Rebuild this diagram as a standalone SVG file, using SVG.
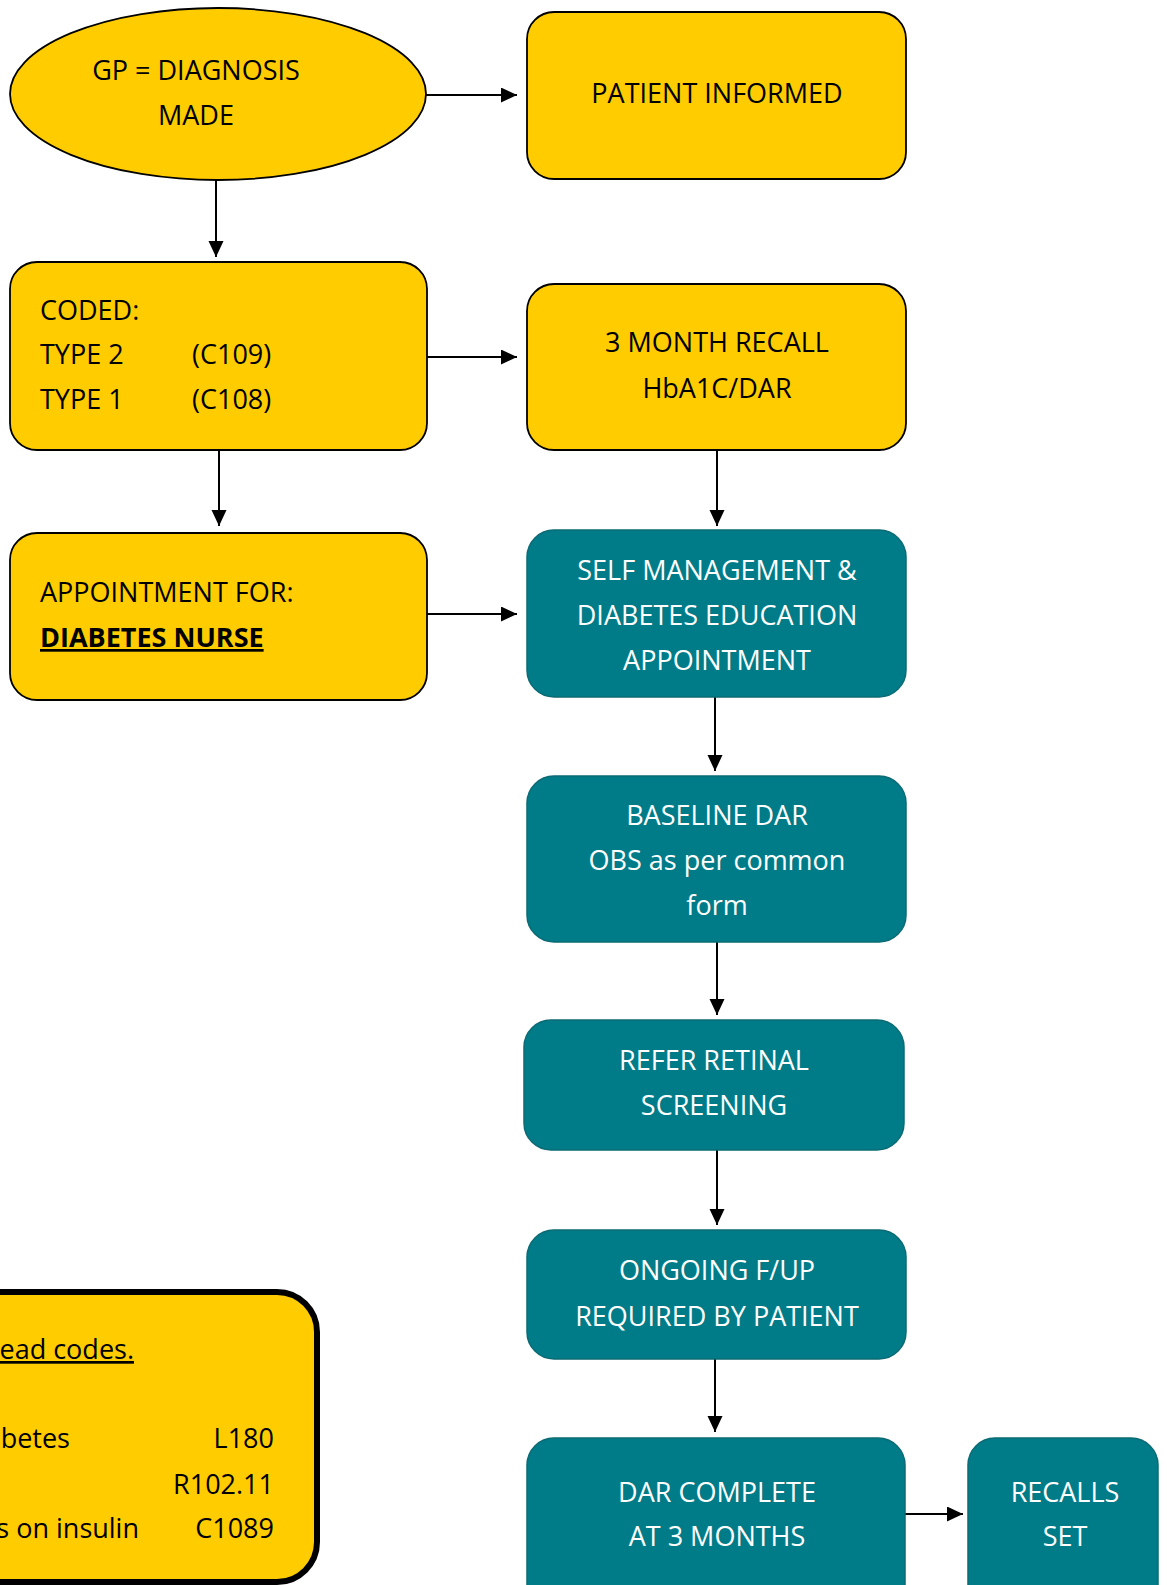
<svg xmlns="http://www.w3.org/2000/svg" width="1167" height="1585" viewBox="0 0 1167 1585">
<style>
text { font-family: "Open Sans", "Noto Sans", "Liberation Sans", sans-serif; font-size: 27px; }
.y { fill: #FFCC00; stroke: #000; stroke-width: 1.8; }
.t { fill: #007C89; stroke: #0B6A73; stroke-width: 1.5; }
.dk { fill: #000; }
.wt { fill: #fff; }
.c { text-anchor: middle; }
.e { text-anchor: end; }
.u { text-decoration: underline; }
.conn line { stroke: #000; stroke-width: 2; marker-end: url(#ah); }
</style>
<defs>
<marker id="ah" markerUnits="userSpaceOnUse" markerWidth="16" markerHeight="16" refX="16" refY="7.5" orient="auto">
<path d="M0,0 L16,7.5 L0,15 z" fill="#000"/>
</marker>
</defs>
<rect width="1167" height="1585" fill="#fff"/>
<g class="conn">
<line x1="426" y1="95" x2="517" y2="95"/>
<line x1="216" y1="180" x2="216" y2="257"/>
<line x1="427" y1="357" x2="517" y2="357"/>
<line x1="219" y1="450" x2="219" y2="526"/>
<line x1="427" y1="614" x2="517" y2="614"/>
<line x1="717" y1="450" x2="717" y2="526"/>
<line x1="715" y1="697" x2="715" y2="771"/>
<line x1="717" y1="942" x2="717" y2="1015"/>
<line x1="717" y1="1150" x2="717" y2="1225"/>
<line x1="715" y1="1359" x2="715" y2="1432"/>
<line x1="905" y1="1514" x2="963" y2="1514"/>
</g>
<g id="gp-diagnosis">
<ellipse class="y" cx="218" cy="94" rx="208" ry="86"/>
<text class="dk c" x="196" y="80">GP = DIAGNOSIS</text>
<text class="dk c" x="196" y="125">MADE</text>
</g>
<g id="patient-informed">
<rect class="y" x="527" y="12" width="379" height="167" rx="27"/>
<text class="dk c" x="717" y="103">PATIENT INFORMED</text>
</g>
<g id="coded">
<rect class="y" x="10" y="262" width="417" height="188" rx="27"/>
<text class="dk" x="40" y="320">CODED:</text>
<text class="dk" x="40" y="364">TYPE 2</text>
<text class="dk" x="192" y="364">(C109)</text>
<text class="dk" x="40" y="409">TYPE 1</text>
<text class="dk" x="192" y="409">(C108)</text>
</g>
<g id="three-month-recall">
<rect class="y" x="527" y="284" width="379" height="166" rx="27"/>
<text class="dk c" x="717" y="352">3 MONTH RECALL</text>
<text class="dk c" x="717" y="398">HbA1C/DAR</text>
</g>
<g id="appointment">
<rect class="y" x="10" y="533" width="417" height="167" rx="27"/>
<text class="dk" x="40" y="602">APPOINTMENT FOR:</text>
<text class="dk u" x="40" y="647" font-weight="bold">DIABETES NURSE</text>
</g>
<g id="self-management">
<rect class="t" x="527" y="530" width="379" height="167" rx="27"/>
<text class="wt c" x="717" y="580">SELF MANAGEMENT &amp;</text>
<text class="wt c" x="717" y="625">DIABETES EDUCATION</text>
<text class="wt c" x="717" y="670">APPOINTMENT</text>
</g>
<g id="baseline-dar">
<rect class="t" x="527" y="776" width="379" height="166" rx="27"/>
<text class="wt c" x="717" y="825">BASELINE DAR</text>
<text class="wt c" x="717" y="870">OBS as per common</text>
<text class="wt c" x="717" y="915">form</text>
</g>
<g id="refer-retinal">
<rect class="t" x="524" y="1020" width="380" height="130" rx="27"/>
<text class="wt c" x="714" y="1070">REFER RETINAL</text>
<text class="wt c" x="714" y="1115">SCREENING</text>
</g>
<g id="ongoing">
<rect class="t" x="527" y="1230" width="379" height="129" rx="27"/>
<text class="wt c" x="717" y="1280">ONGOING F/UP</text>
<text class="wt c" x="717" y="1326">REQUIRED BY PATIENT</text>
</g>
<g id="dar-complete">
<rect class="t" x="527" y="1438" width="378" height="180" rx="27"/>
<text class="wt c" x="717" y="1502">DAR COMPLETE</text>
<text class="wt c" x="717" y="1546">AT 3 MONTHS</text>
</g>
<g id="recalls-set">
<rect class="t" x="968" y="1438" width="190" height="180" rx="27"/>
<text class="wt c" x="1065" y="1502">RECALLS</text>
<text class="wt c" x="1065" y="1546">SET</text>
</g>
<g id="read-codes">
<rect x="-60" y="1292" width="377" height="290" rx="40" fill="#FFCC00" stroke="#000" stroke-width="6"/>
<text class="dk e u" x="134" y="1359">ead codes.</text>
<text class="dk e" x="70" y="1448">betes</text>
<text class="dk e" x="274" y="1448">L180</text>
<text class="dk e" x="274" y="1494">R102.11</text>
<text class="dk e" x="139" y="1538">s on insulin</text>
<text class="dk e" x="274" y="1538">C1089</text>
</g>
</svg>
